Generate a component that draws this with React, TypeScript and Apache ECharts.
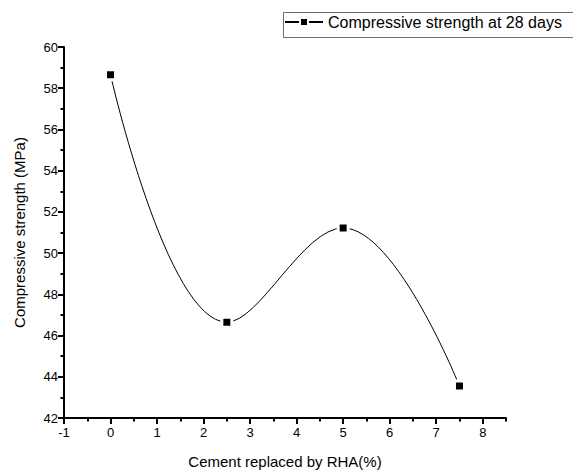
import React, { useEffect, useRef } from "react";
import * as echarts from "echarts";

const seriesName = "Compressive strength at 28 days";
const rhaPercent = [0, 2.5, 5, 7.5];
const strength = [58.65, 46.65, 51.22, 43.55];
const xTickValues = [-1, 0, 1, 2, 3, 4, 5, 6, 7, 8];
const xAxisName = "Cement replaced by RHA(%)";
const yAxisName = "Compressive strength (MPa)";

export default function App() {
  const ref = useRef<HTMLDivElement>(null);
  useEffect(() => {
    document.body.style.margin = "0";
    const chart = echarts.init(ref.current!, null, { renderer: "svg" });
    const font = "Arial, 'Liberation Sans', sans-serif";
    const axisStyle = { color: "#000000", width: 2, opacity: 1, type: "solid" };
    chart.setOption({
      animation: false,
      backgroundColor: "#ffffff",
      textStyle: { fontFamily: font },
      grid: { left: 64, top: 47, right: 67, bottom: 57, show: false },
      graphic: [
        {
          type: "rect",
          left: 281,
          top: 10,
          shape: { x: 0, y: 0, width: 320, height: 25 },
          style: { fill: "none", stroke: "#6e6e6e", lineWidth: 1 },
          z: 1,
        },
      ],
      legend: {
        left: 284,
        top: 10,
        itemWidth: 38,
        itemHeight: 10,
        itemGap: 0,
        padding: [4, 0, 4, 0],
        borderWidth: 0,
        textStyle: { fontSize: 16, color: "#000", fontFamily: font },
        data: [seriesName],
      },
      xAxis: [
        {
          type: "value",
          min: -1,
          max: 8.5,
          interval: 1,
          name: xAxisName,
          nameLocation: "middle",
          nameGap: 36,
          nameTextStyle: { fontSize: 15, color: "#000", fontFamily: font },
          axisLine: { show: true, onZero: false, lineStyle: axisStyle },
          axisTick: { show: true, length: 6, customValues: xTickValues, lineStyle: axisStyle },
          axisLabel: {
            fontSize: 13,
            color: "#000",
            margin: 8,
            customValues: xTickValues,
            formatter: (v: number) => (Number.isInteger(v) ? String(v) : ""),
          },
          splitLine: { show: false },
          z: 5,
        },
        {
          type: "value",
          min: -1,
          max: 8.5,
          interval: 0.5,
          position: "bottom",
          axisLine: { show: false, onZero: false },
          axisTick: { show: true, length: 3.5, lineStyle: axisStyle },
          axisLabel: { show: false },
          splitLine: { show: false },
          z: 4,
        },
      ],
      yAxis: {
        type: "value",
        min: 42,
        max: 60,
        interval: 2,
        name: yAxisName,
        nameLocation: "middle",
        nameGap: 37,
        nameTextStyle: { fontSize: 15, color: "#000", fontFamily: font },
        axisLine: { show: true, onZero: false, lineStyle: axisStyle },
        axisTick: { show: true, length: 6, lineStyle: axisStyle },
        minorTick: { show: true, splitNumber: 2, length: 3.5, lineStyle: axisStyle },
        axisLabel: { fontSize: 13, color: "#000", margin: 6 },
        splitLine: { show: false },
        z: 5,
      },
      series: [
        {
          name: seriesName,
          type: "line",
          xAxisIndex: 0,
          data: rhaPercent.map((x, i) => [x, strength[i]]),
          smooth: 0.4,
          symbol: "rect",
          symbolSize: 10,
          lineStyle: { color: "#000", width: 1 },
          itemStyle: { color: "#000", borderColor: "#fff", borderWidth: 3 },
        },
      ],
    });
    return () => chart.dispose();
  }, []);
  return (
    <div
      ref={ref}
      style={{ position: "absolute", left: 0, top: 0, width: 573, height: 475 }}
    />
  );
}
